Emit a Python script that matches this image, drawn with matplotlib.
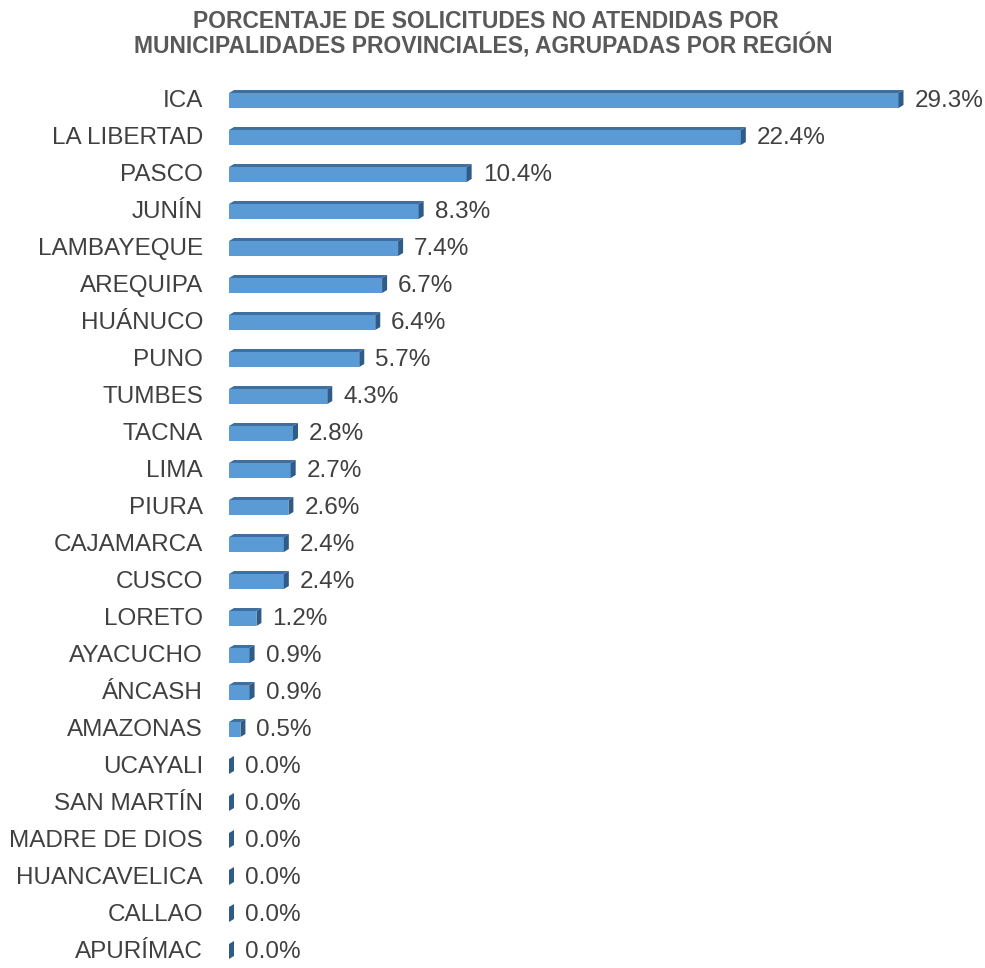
import matplotlib
matplotlib.use("Agg")
import matplotlib.pyplot as plt
from matplotlib.patches import Polygon

regiones = [
    "ICA", "LA LIBERTAD", "PASCO", "JUNÍN", "LAMBAYEQUE", "AREQUIPA",
    "HUÁNUCO", "PUNO", "TUMBES", "TACNA", "LIMA", "PIURA", "CAJAMARCA",
    "CUSCO", "LORETO", "AYACUCHO", "ÁNCASH", "AMAZONAS", "UCAYALI",
    "SAN MARTÍN", "MADRE DE DIOS", "HUANCAVELICA", "CALLAO", "APURÍMAC",
]
porcentajes = [
    29.3, 22.4, 10.4, 8.3, 7.4, 6.7, 6.4, 5.7, 4.3, 2.8, 2.7, 2.6, 2.4,
    2.4, 1.2, 0.9, 0.9, 0.5, 0.0, 0.0, 0.0, 0.0, 0.0, 0.0,
]

plt.rcParams["font.family"] = ["Liberation Sans", "DejaVu Sans"]

W, H = 985, 968
fig = plt.figure(figsize=(W / 100, H / 100), dpi=100)

# axes in pixel-matched layout: x starts at the bar base, rows ~37 px apart
x0 = 229
px_per_pct = 22.85
pitch = 37.0
row0 = 99
ax = fig.add_axes([x0 / W, 0, (W - x0) / W, 1])
ax.set_xlim(0, (W - x0) / px_per_pct)
ax.set_ylim((H - row0) / pitch, -row0 / pitch)
ax.axis("off")

front = "#5b9bd5"
top_c = "#3f6f9f"
side_c = "#2f5b88"
dx = 5 / px_per_pct      # depth of the 3d effect in x
dy = 3 / pitch           # depth in y
h = 18 / pitch

for i, v in enumerate(porcentajes):
    yt = i - h / 2
    yb = i + h / 2
    if v > 0:
        ax.barh(i + dy / 2, v, height=h - dy, left=0, color=front,
                edgecolor="none")
        ax.add_patch(Polygon([(0, yt + dy), (dx, yt), (v + dx, yt),
                              (v, yt + dy)], closed=True,
                             facecolor=top_c, edgecolor="none"))
    ax.add_patch(Polygon([(v, yt + dy), (v + dx, yt), (v + dx, yb - dy),
                          (v, yb)], closed=True,
                         facecolor=side_c, edgecolor="none"))
    ax.text(v + dx + 11 / px_per_pct, i + 0.06, f"{v:.1f}%",
            ha="left", va="center", fontsize=17.5, color="#404040")
    ax.text(-26 / px_per_pct, i + 0.06, regiones[i], ha="right",
            va="center", fontsize=17.5, color="#404040")

fig.text(0.493, 1 - 21 / H, "PORCENTAJE DE SOLICITUDES NO ATENDIDAS POR",
         ha="center", va="center", fontsize=16.5, fontweight="bold",
         color="#595959")
fig.text(0.491, 1 - 46 / H,
         "MUNICIPALIDADES PROVINCIALES, AGRUPADAS POR REGIÓN",
         ha="center", va="center", fontsize=16.5, fontweight="bold",
         color="#595959")

fig.savefig("out.png", dpi=100)
